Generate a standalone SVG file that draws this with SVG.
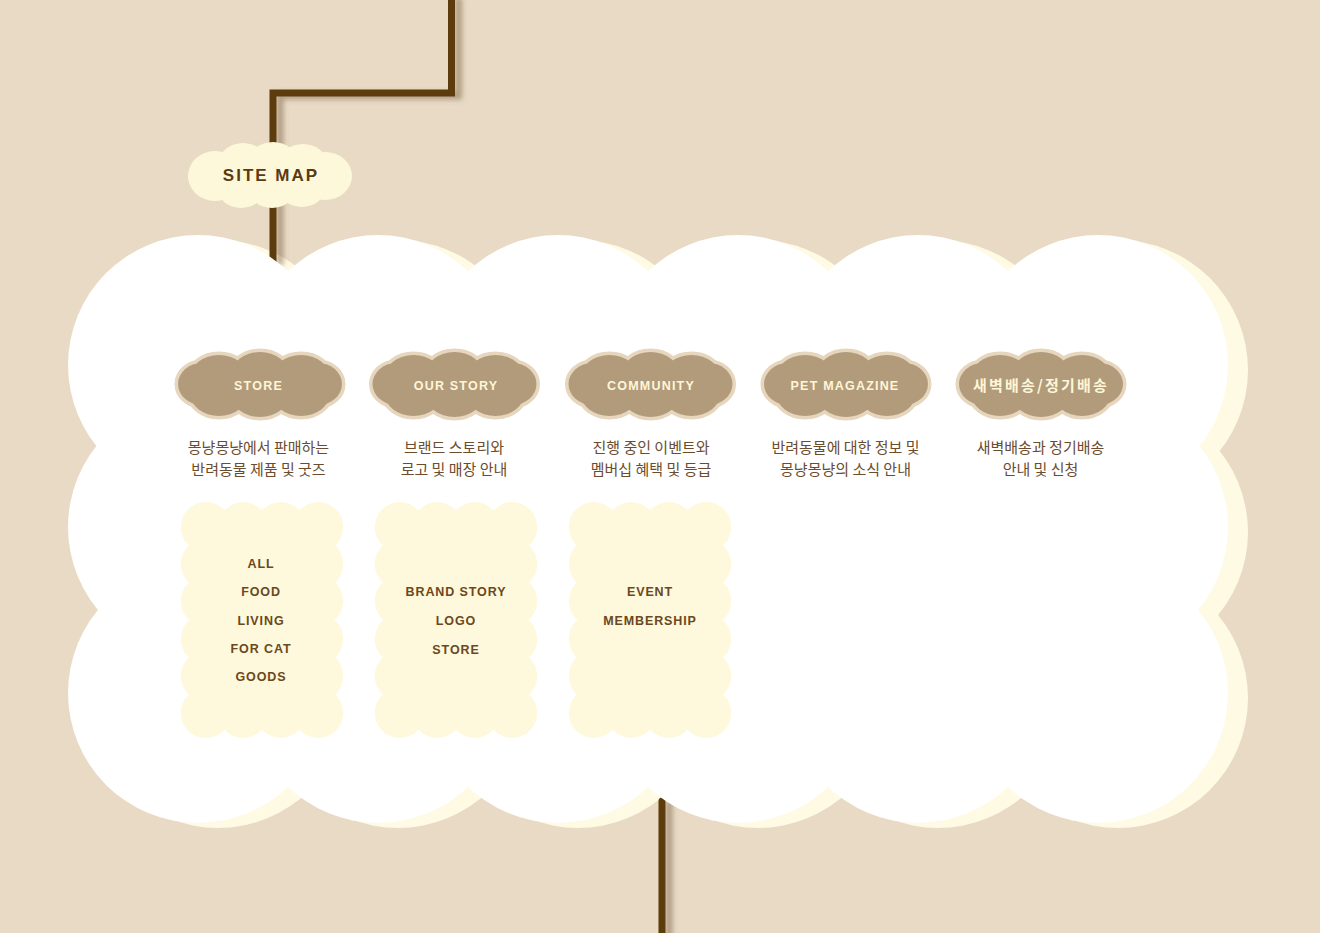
<svg xmlns="http://www.w3.org/2000/svg" xmlns:xlink="http://www.w3.org/1999/xlink" width="1320" height="933" viewBox="0 0 1320 933">
<style>
.bg{fill:#E8DAC5}
.line{fill:none;stroke:#5C3A0C;stroke-width:7}
.en{font-family:"Liberation Sans",Arial,sans-serif;font-weight:bold;text-anchor:middle}
.hdr{fill:#FFF6D8;font-size:12.5px;letter-spacing:1.2px}
.hdrkr{fill:#FFF6D8;font-family:"Noto Sans CJK KR","Noto Sans",sans-serif;font-weight:bold;font-size:15px;letter-spacing:2.2px;text-anchor:middle}
.desc{fill:#6B4C2E;font-family:"Noto Sans CJK KR","Noto Sans",sans-serif;font-size:15px;text-anchor:middle}
.item{fill:#6B4820;font-size:12.5px;letter-spacing:0.9px}
.sm{fill:#5A3A12;font-size:17px;letter-spacing:2px}
.hb{stroke:#E6D6BE;stroke-width:7;fill:#E6D6BE}
.hf{fill:#B29B7B}
.box{fill:#FEF9DC}
</style>
<defs>
<filter id="sh" x="-50%" y="-10%" width="200%" height="120%">
<feDropShadow dx="7" dy="3" stdDeviation="2.5" flood-color="#7A6040" flood-opacity="0.5"/>
</filter>
<g id="bigCloud">
<circle cx="198" cy="365" r="130"/><circle cx="378" cy="365" r="130"/><circle cx="558" cy="365" r="130"/>
<circle cx="738" cy="365" r="130"/><circle cx="918" cy="365" r="130"/><circle cx="1098" cy="365" r="130"/>
<circle cx="198" cy="693" r="130"/><circle cx="378" cy="693" r="130"/><circle cx="558" cy="693" r="130"/>
<circle cx="738" cy="693" r="130"/><circle cx="918" cy="693" r="130"/><circle cx="1098" cy="693" r="130"/>
<circle cx="198" cy="527" r="130"/><circle cx="1098" cy="527" r="130"/>
<rect x="198" y="365" width="900" height="328"/>
</g>
<g id="hdrShape">
<ellipse cx="-58" cy="384" rx="24" ry="21"/>
<ellipse cx="58" cy="384" rx="24" ry="21"/>
<ellipse cx="-41" cy="378" rx="29" ry="23"/><ellipse cx="0" cy="375" rx="29" ry="23"/><ellipse cx="41" cy="378" rx="29" ry="23"/>
<ellipse cx="-41" cy="393" rx="29" ry="23"/><ellipse cx="0" cy="394" rx="29" ry="23"/><ellipse cx="41" cy="393" rx="29" ry="23"/>
<rect x="-60" y="370" width="120" height="30"/>
</g>
<g id="boxShape">
<circle cx="-56.25" cy="527" r="25"/><circle cx="-18.75" cy="527" r="25"/><circle cx="18.75" cy="527" r="25"/><circle cx="56.25" cy="527" r="25"/>
<circle cx="-56.25" cy="713" r="25"/><circle cx="-18.75" cy="713" r="25"/><circle cx="18.75" cy="713" r="25"/><circle cx="56.25" cy="713" r="25"/>
<circle cx="-56.25" cy="564" r="25"/><circle cx="-56.25" cy="601" r="25"/><circle cx="-56.25" cy="639" r="25"/><circle cx="-56.25" cy="676" r="25"/>
<circle cx="56.25" cy="564" r="25"/><circle cx="56.25" cy="601" r="25"/><circle cx="56.25" cy="639" r="25"/><circle cx="56.25" cy="676" r="25"/>
<rect x="-57" y="527" width="114" height="186"/>
</g>
</defs>
<rect class="bg" x="0" y="0" width="1320" height="933"/>
<use href="#bigCloud" fill="#FEFAE3" transform="translate(20,5)"/>
<g id="connectors" filter="url(#sh)">
<path class="line" d="M451.5,-5 V93 H273 V262" stroke-linejoin="miter"/>
<path class="line" d="M662,801 V940" stroke-linecap="round"/>
</g>
<g id="main-cloud">
<use href="#bigCloud" fill="#FFFFFF"/>
</g>
<g id="site-map">
<g fill="#FEF8DA">
<ellipse cx="215" cy="176" rx="27" ry="25"/>
<ellipse cx="243" cy="163" rx="24" ry="20"/>
<ellipse cx="273" cy="162" rx="24" ry="20"/>
<ellipse cx="303" cy="164" rx="24" ry="20"/>
<ellipse cx="325" cy="176" rx="27" ry="24"/>
<ellipse cx="241" cy="189" rx="23" ry="19"/>
<ellipse cx="272" cy="189" rx="23" ry="19"/>
<ellipse cx="302" cy="188" rx="23" ry="19"/>
<rect x="214" y="160" width="112" height="32"/>
</g>
<text class="en sm" x="271" y="181">SITE MAP</text>
</g>
<g id="node-store">
<g transform="translate(260,0)"><use href="#hdrShape" class="hb"/><use href="#hdrShape" class="hf"/></g>
<text class="en hdr" x="258.5" y="389.5">STORE</text>
<text class="desc" x="258.5" y="452.5">몽냥몽냥에서 판매하는</text>
<text class="desc" x="258.5" y="475">반려동물 제품 및 굿즈</text>
</g>
<g id="node-our-story">
<g transform="translate(454.5,0)"><use href="#hdrShape" class="hb"/><use href="#hdrShape" class="hf"/></g>
<text class="en hdr" x="456" y="389.5">OUR STORY</text>
<text class="desc" x="454" y="452.5">브랜드 스토리와</text>
<text class="desc" x="454" y="475">로고 및 매장 안내</text>
</g>
<g id="node-community">
<g transform="translate(650.5,0)"><use href="#hdrShape" class="hb"/><use href="#hdrShape" class="hf"/></g>
<text class="en hdr" x="651" y="389.5">COMMUNITY</text>
<text class="desc" x="651" y="452.5">진행 중인 이벤트와</text>
<text class="desc" x="651" y="475">멤버십 혜택 및 등급</text>
</g>
<g id="node-pet-magazine">
<g transform="translate(846,0)"><use href="#hdrShape" class="hb"/><use href="#hdrShape" class="hf"/></g>
<text class="en hdr" x="845" y="389.5">PET MAGAZINE</text>
<text class="desc" x="845.5" y="452.5">반려동물에 대한 정보 및</text>
<text class="desc" x="845.5" y="475">몽냥몽냥의 소식 안내</text>
</g>
<g id="node-delivery">
<g transform="translate(1041,0)"><use href="#hdrShape" class="hb"/><use href="#hdrShape" class="hf"/></g>
<text class="hdrkr" x="1041" y="390.5">새벽배송/정기배송</text>
<text class="desc" x="1040.5" y="452.5">새벽배송과 정기배송</text>
<text class="desc" x="1040.5" y="475">안내 및 신청</text>
</g>
<g id="box-store">
<g transform="translate(262,0)"><use href="#boxShape" class="box"/></g>
<text class="en item" x="261" y="567.5">ALL</text>
<text class="en item" x="261" y="595.5">FOOD</text>
<text class="en item" x="261" y="624.5">LIVING</text>
<text class="en item" x="261" y="652.5">FOR CAT</text>
<text class="en item" x="261" y="680.5">GOODS</text>
</g>
<g id="box-our-story">
<g transform="translate(456,0)"><use href="#boxShape" class="box"/></g>
<text class="en item" x="456" y="596">BRAND STORY</text>
<text class="en item" x="456" y="624.5">LOGO</text>
<text class="en item" x="456" y="653.5">STORE</text>
</g>
<g id="box-community">
<g transform="translate(650,0)"><use href="#boxShape" class="box"/></g>
<text class="en item" x="650" y="596">EVENT</text>
<text class="en item" x="650" y="624.5">MEMBERSHIP</text>
</g>
</svg>
